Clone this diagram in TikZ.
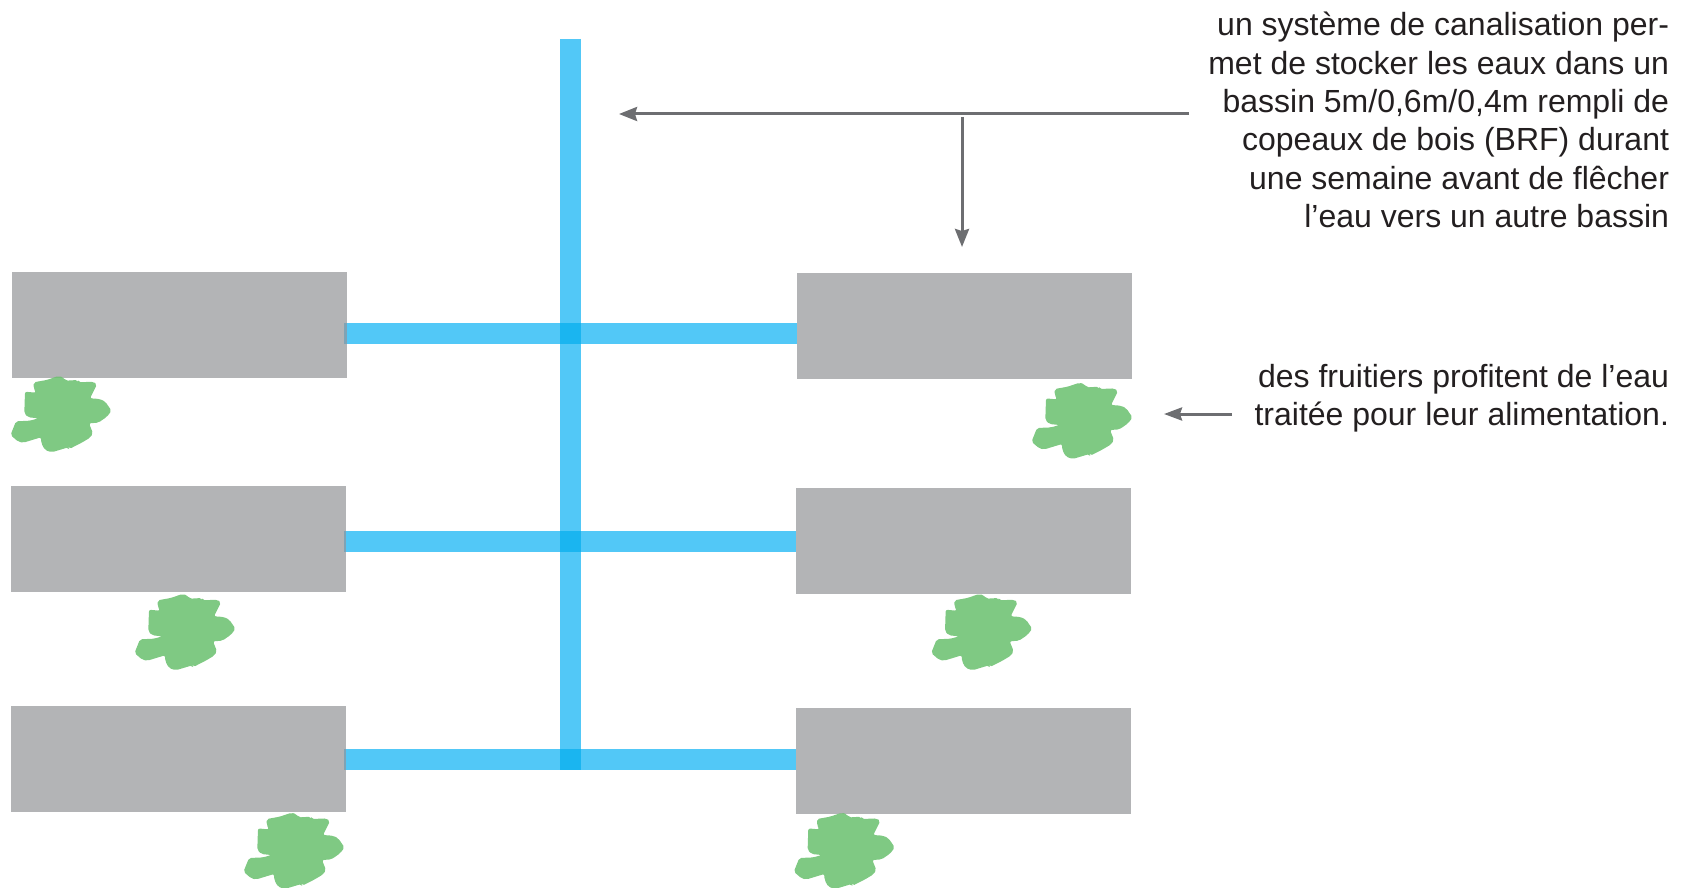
\documentclass[tikz,border=0pt]{standalone}
\usepackage{fontspec}
\setmainfont{Liberation Sans}
\usetikzlibrary{arrows.meta}
\definecolor{bassingrey}{HTML}{B3B4B6}
\definecolor{pipeblue}{HTML}{52C8F7}
\definecolor{pipecross}{HTML}{1AB5F0}
\definecolor{pipeend}{HTML}{7FA3B5}
\definecolor{arrowgrey}{HTML}{6D6E71}
\definecolor{textdark}{HTML}{231F20}
\definecolor{bushgreen}{RGB}{105,192,109}
\tikzset{
  bassin/.style={fill=bassingrey,draw=none,inner sep=0pt,outer sep=0pt,minimum width=335pt,minimum height=106pt,anchor=north west},
  pipeh/.style={draw=pipeblue,line width=21pt,line cap=butt},
  note/.style={align=right,anchor=south east,inner sep=0pt,outer sep=0pt,text=textdark,font=\fontsize{32pt}{38.4pt}\selectfont},
  lead/.style={draw=arrowgrey,line width=3pt,-{Stealth[length=18pt,width=14pt,inset=2pt]}},
  bush/.pic={
    \fill[bushgreen,opacity=.85,rounded corners=2pt]
      (33.7,382.3) -- (46.7,380) -- (58.3,376) -- (63.3,377.3) -- (65.7,380.7) -- (77.7,380) -- (78.7,382.3)
      -- (93.3,381.7) -- (97,384.3) -- (90,398.3) -- (100,399) -- (105.3,401.7) -- (111.5,410.7)
      -- (107,416.7) -- (98.3,422.7) -- (89,423.3) -- (93,433.3) -- (90,437.7) -- (81.7,442.7)
      -- (69.3,449) -- (68.3,447.3) -- (51.7,452.3) -- (45,450) -- (41.3,443.3) -- (41,437.3)
      -- (23.3,442.7) -- (18.3,441.7) -- (10.5,435) -- (16,421.3) -- (30,420.7) -- (38.3,418.3)
      -- (28.3,417.3) -- (24.3,413.3) -- (25,391.7) -- (36,392.7) -- (33.7,388.3) -- cycle;
  }
}
\begin{document}
\begin{tikzpicture}[x=1pt,y=-1pt]
\useasboundingbox (0,0) rectangle (1688,888);
% pipes
\coordinate (vtop) at (570.5,39);
\coordinate (vbot) at (570.5,770);
\coordinate (h1l) at (344,333.5);
\coordinate (h1r) at (798,333.5);
\coordinate (h2l) at (344,541.5);
\coordinate (h2r) at (798,541.5);
\coordinate (h3l) at (344,759.5);
\coordinate (h3r) at (798,759.5);
\draw[pipeh] (vtop) -- (vbot);
\draw[pipeh] (h1l) -- (h1r);
\draw[pipeh] (h2l) -- (h2r);
\draw[pipeh] (h3l) -- (h3r);
\fill[pipecross] (560,323) rectangle (581,344);
\fill[pipecross] (560,531) rectangle (581,552);
\fill[pipecross] (560,749) rectangle (581,770);
% basins
\node[bassin] (b1) at (12,272) {};
\node[bassin] (b2) at (11,486) {};
\node[bassin] (b3) at (11,706) {};
\node[bassin] (b4) at (797,273) {};
\node[bassin] (b5) at (796,488) {};
\node[bassin] (b6) at (796,708) {};
\fill[pipeend] (344,323) rectangle (347,344);
\fill[pipeend] (344,531) rectangle (346,552);
\fill[pipeend] (344,749) rectangle (346,770);
% fruit trees
\pic at (0,0) {bush};
\pic at (124,218) {bush};
\pic at (233,436.7) {bush};
\pic at (1021,6.7) {bush};
\pic at (920.7,218) {bush};
\pic at (783.3,436.7) {bush};
% arrows
\coordinate (a1s) at (1189,114);
\coordinate (a1e) at (619,114);
\coordinate (a2s) at (962,117);
\coordinate (a2e) at (962,247);
\coordinate (a3s) at (1232,414);
\coordinate (a3e) at (1164,414);
\draw[lead] (a1s) -- (a1e);
\draw[lead] (a2s) -- (a2e);
\draw[lead,-{Stealth[length=18pt,width=13pt,inset=2pt]}] (a3s) -- (a3e);
% notes
\node[note] (n1) at (1669,228) {un système de canalisation per-\\met de stocker les eaux dans un\\bassin 5m/0,6m/0,4m rempli de\\copeaux de bois (BRF) durant\\une semaine avant de flêcher\\l’eau vers un autre bassin};
\node[note] (n2) at (1669,432.5) {des fruitiers profitent de l’eau\\traitée pour leur alimentation.};
\end{tikzpicture}
\end{document}
